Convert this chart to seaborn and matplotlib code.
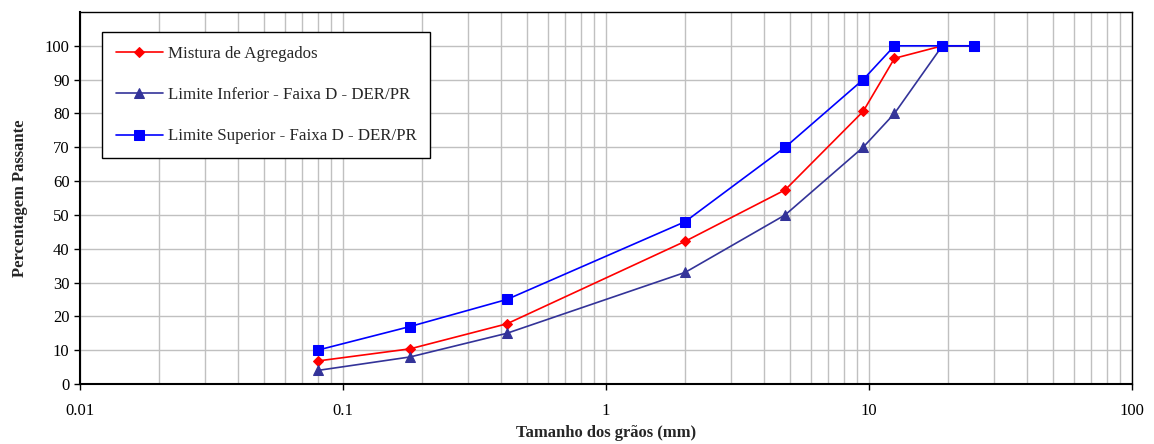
import numpy as np
import pandas as pd
import matplotlib
matplotlib.use("Agg")
import matplotlib.pyplot as plt
import seaborn as sns
from matplotlib.ticker import FixedLocator, FixedFormatter, LogLocator, NullFormatter

# sieve openings (mm) and % passing
sieves = [0.08, 0.18, 0.42, 2.0, 4.8, 9.5, 12.5, 19.0, 25.0]
mistura = [6.8, 10.4, 17.8, 42.2, 57.4, 80.6, 96.3, 100, 100]
limite_inf = [4, 8, 15, 33, 50, 70, 80, 100, 100]
limite_sup = [10, 17, 25, 48, 70, 90, 100, 100, 100]

labels = ["Mistura de Agregados",
          "Limite Inferior - Faixa D - DER/PR",
          "Limite Superior - Faixa D - DER/PR"]
colors = ["#FF0000", "#333399", "#0000FF"]
markers = ["D", "^", "s"]
msizes = [5, 7, 7]

sns.set_theme(style="white")
plt.rcParams["font.family"] = ["Liberation Serif", "DejaVu Serif"]

fig = plt.figure(figsize=(11.54, 4.44), dpi=100)
ax = fig.add_axes([80 / 1154, 60 / 444, 1052 / 1154, 372 / 444])

# draw upper last so it sits on top like in the original
order = [1, 0, 2]
series = [mistura, limite_inf, limite_sup]
for i in order:
    df = pd.DataFrame({"x": sieves, "y": series[i]})
    sns.lineplot(data=df, x="x", y="y", ax=ax, color=colors[i], marker=markers[i],
                 markersize=msizes[i], markeredgecolor=colors[i], linewidth=1.2,
                 label=labels[i], zorder=3 + i)

ax.set_xscale("log")
ax.set_xlim(0.01, 100)
ax.set_ylim(0, 110)
ax.set_yticks(range(0, 101, 10))
ax.xaxis.set_major_locator(FixedLocator([0.01, 0.1, 1, 10, 100]))
ax.xaxis.set_major_formatter(FixedFormatter(["0.01", "0.1", "1", "10", "100"]))
ax.xaxis.set_minor_locator(LogLocator(base=10, subs=np.arange(2, 10)))
ax.xaxis.set_minor_formatter(NullFormatter())

ax.grid(True, which="major", axis="both", color="#c0c0c0", linewidth=1)
ax.grid(True, which="minor", axis="x", color="#c0c0c0", linewidth=1)
ax.set_axisbelow(True)

for s in ax.spines.values():
    s.set_color("black")
    s.set_linewidth(1)
ax.spines["left"].set_linewidth(1.5)
ax.spines["bottom"].set_linewidth(1.5)

ax.tick_params(axis="both", which="major", direction="out", length=4, width=1,
               colors="black", labelsize=12, bottom=True, left=True)
ax.tick_params(axis="x", which="major", pad=10)
ax.tick_params(axis="x", which="minor", length=0)

ax.set_xlabel("Tamanho dos grãos (mm)", fontsize=12, fontweight="bold", labelpad=4)
ax.set_ylabel("Percentagem Passante", fontsize=12, fontweight="bold", labelpad=12)

h, l = ax.get_legend_handles_labels()
hl = dict(zip(l, h))
leg = ax.legend([hl[k] for k in labels], labels, loc="upper left",
                bbox_to_anchor=(0.021, 0.946), fontsize=12.2, frameon=True,
                fancybox=False, edgecolor="black", framealpha=1,
                borderpad=0.8, labelspacing=1.5, handlelength=2.8,
                handletextpad=0.3, borderaxespad=0)
leg.get_frame().set_linewidth(1)

fig.savefig("out.png", dpi=100)
